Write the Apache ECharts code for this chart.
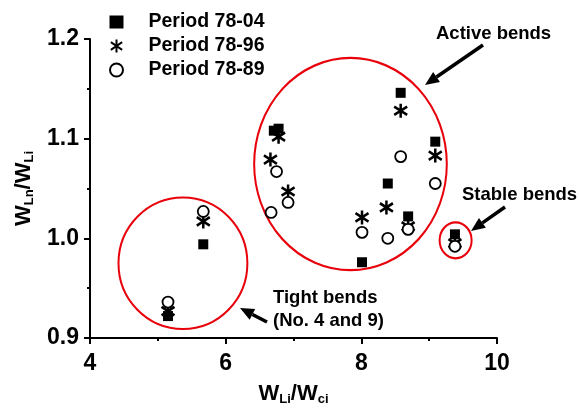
<!DOCTYPE html>
<html lang="en">
  <head>
    <meta charset="UTF-8" />
    <title>Bend width ratio</title>
    <script src="https://cdn.jsdelivr.net/npm/echarts@6/dist/echarts.min.js"></script>
    <style>
      body { margin: 0; background: #fff; }
      #main { width: 579px; height: 411px; }
    </style>
  </head>
  <body>
    <div id="main"></div>
    <script>
      // 数据：x = W_Li/W_ci, y = W_Ln/W_Li
      const period7804 = [
        [5.15, 0.922], [5.67, 0.994], [6.71, 1.108], [6.78, 1.110], [8.01, 0.976],
        [8.39, 1.055], [8.58, 1.146], [8.69, 1.022], [9.09, 1.097], [9.38, 1.004]
      ];
      const period7896 = [
        [5.15, 0.927], [5.67, 1.017], [6.66, 1.079], [6.78, 1.102], [6.92, 1.047],
        [8.01, 1.021], [8.37, 1.031], [8.58, 1.128], [8.69, 1.012], [9.09, 1.083], [9.38, 0.995]
      ];
      const period7889 = [
        [5.15, 0.936], [5.67, 1.027], [6.67, 1.026], [6.75, 1.067], [6.92, 1.036],
        [8.01, 1.006], [8.39, 1.000], [8.58, 1.082], [8.69, 1.009], [9.09, 1.055], [9.38, 0.992]
      ];
      const seriesNames = ["Period 78-04", "Period 78-96", "Period 78-89"];

      // 注释圈（数据坐标）：中心 x, y, 半径 rx, ry
      const bendCircles = [
        [7.84, 1.0745, 1.42, 0.1065],
        [5.37, 0.975, 0.95, 0.066],
        [9.39, 0.998, 0.236, 0.018]
      ];

      const FONT = "Liberation Sans, Arial, sans-serif";
      const STAR = "path://M0,-1L0,1M-0.87,-0.6L0.87,0.6M-0.87,0.6L0.87,-0.6";

      const chart = echarts.init(document.getElementById("main"));

      const axisCommon = {
        axisLine: { lineStyle: { color: "#000", width: 2 } },
        axisTick: { inside: false, length: 6, lineStyle: { color: "#000", width: 2 } },
        minorTick: { show: true, splitNumber: 2, length: 3, lineStyle: { color: "#000", width: 2 } },
        splitLine: { show: false },
        axisLabel: { color: "#000", fontFamily: FONT, fontWeight: "bold", fontSize: 23, margin: 14 },
        nameTextStyle: {
          color: "#000",
          fontFamily: FONT,
          fontWeight: "bold",
          rich: {
            m: { fontSize: 22, fontFamily: FONT, fontWeight: "bold", color: "#000" },
            s: { fontSize: 13, fontFamily: FONT, fontWeight: "bold", color: "#000", padding: [11, 0, 0, 0] }
          }
        }
      };

      const option = {
        animation: false,
        grid: { left: 90, right: 82, top: 39, bottom: 72 },
        legend: {
          orient: "vertical",
          left: 104,
          top: 7,
          itemWidth: 14,
          itemHeight: 13,
          itemGap: 4,
          textStyle: { color: "#000", fontFamily: FONT, fontWeight: "bold", fontSize: 19.5, padding: [0, 0, 0, 20] },
          data: seriesNames
        },
        xAxis: Object.assign({}, axisCommon, {
          type: "value",
          min: 4,
          max: 10,
          interval: 2,
          name: "{m|W}{s|Li}{m|/W}{s|ci}",
          nameLocation: "middle",
          nameGap: 44
        }),
        yAxis: Object.assign({}, axisCommon, {
          type: "value",
          min: 0.9,
          max: 1.2,
          interval: 0.1,
          axisLabel: Object.assign({}, axisCommon.axisLabel, {
            margin: 11,
            formatter: v => v.toFixed(1)
          }),
          name: "{m|W}{s|Ln}{m|/W}{s|Li}",
          nameLocation: "middle",
          nameGap: 53
        }),
        series: [
          {
            name: seriesNames[0],
            type: "scatter",
            symbol: "rect",
            symbolSize: 10,
            itemStyle: { color: "#000", opacity: 1 },
            data: period7804
          },
          {
            name: seriesNames[1],
            type: "scatter",
            symbol: STAR,
            symbolSize: [13, 14],
            itemStyle: { color: "#000", borderColor: "#000", borderWidth: 2.6, opacity: 1 },
            data: period7896
          },
          {
            name: seriesNames[2],
            type: "scatter",
            symbol: "circle",
            symbolSize: 11,
            itemStyle: { color: "#fff", borderColor: "#000", borderWidth: 1.8, opacity: 1 },
            data: period7889
          }
        ]
      };

      chart.setOption(option);

      // 注释：红圈、箭头、文字
      const graphics = [];
      bendCircles.forEach(c => {
        const p = chart.convertToPixel({ gridIndex: 0 }, [c[0], c[1]]);
        const q = chart.convertToPixel({ gridIndex: 0 }, [c[0] + c[2], c[1] + c[3]]);
        const rx = Math.abs(q[0] - p[0]);
        const ry = Math.abs(q[1] - p[1]);
        graphics.push({
          type: "circle",
          x: p[0],
          y: p[1],
          scaleY: ry / rx,
          shape: { cx: 0, cy: 0, r: rx },
          style: { fill: "none", stroke: "#e8000b", lineWidth: 2 },
          silent: true
        });
      });

      function arrow(x1, y1, x2, y2) {
        const ang = Math.atan2(y2 - y1, x2 - x1);
        const L = 14, W = 6;
        const bx = x2 - L * Math.cos(ang), by = y2 - L * Math.sin(ang);
        const nx = -Math.sin(ang) * W, ny = Math.cos(ang) * W;
        graphics.push({
          type: "line",
          shape: { x1: x1, y1: y1, x2: bx, y2: by },
          style: { stroke: "#000", lineWidth: 3.5 },
          silent: true
        });
        graphics.push({
          type: "polygon",
          shape: { points: [[x2, y2], [bx + nx, by + ny], [bx - nx, by - ny]] },
          style: { fill: "#000" },
          silent: true
        });
      }
      arrow(483, 45, 425, 85);
      arrow(505, 207, 471, 231);
      arrow(267, 322, 240, 308);

      function label(text, x, y, align) {
        graphics.push({
          type: "text",
          x: x,
          y: y,
          style: {
            text: text,
            fill: "#000",
            font: "bold 18.5px " + FONT,
            textAlign: align || "left",
            textVerticalAlign: "middle",
            lineHeight: 23
          },
          silent: true
        });
      }
      label("Active bends", 436, 34);
      label("Stable bends", 462, 195);
      label("Tight bends\n(No. 4 and 9)", 273, 309);

      chart.setOption({ graphic: graphics });
    </script>
  </body>
</html>
